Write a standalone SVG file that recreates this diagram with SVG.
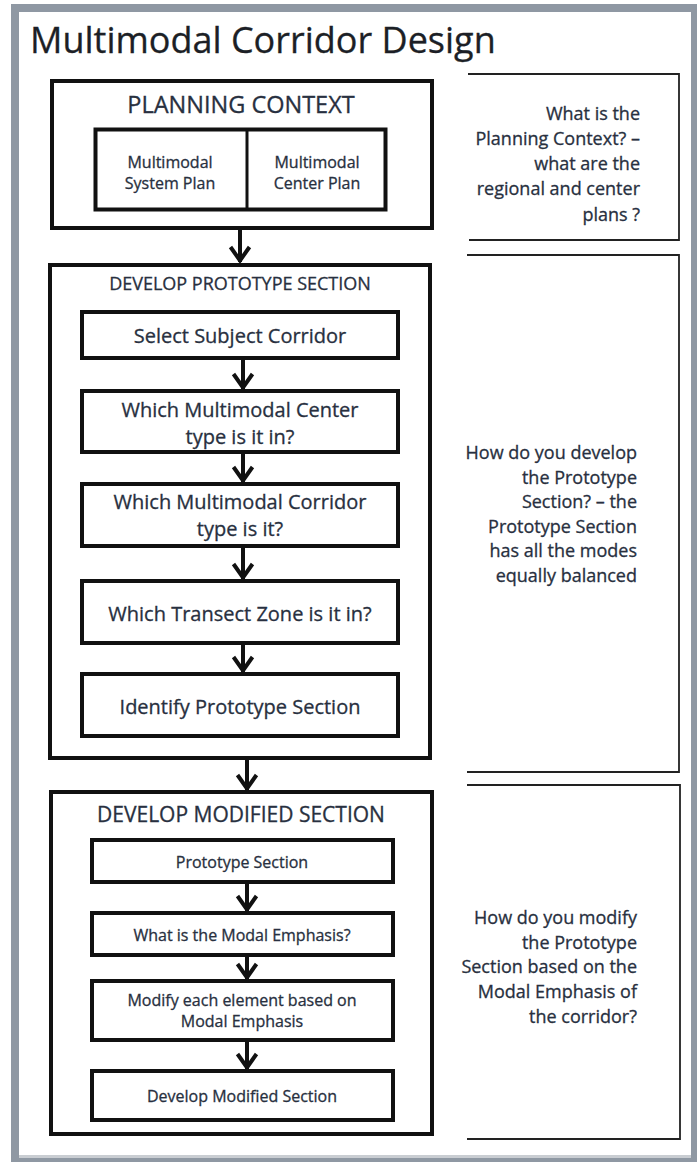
<svg xmlns="http://www.w3.org/2000/svg" width="697" height="1162" viewBox="0 0 697 1162">
<style>
.frame{fill:#8f98a3}
.box{fill:#fff;stroke:#111;stroke-width:4}
.thin{fill:none;stroke:#222;stroke-width:1.8}
.t{font-family:"Open Sans","Noto Sans",sans-serif;fill:#283040;stroke:#283040;stroke-width:0.3;text-anchor:middle}
.r{font-family:"Open Sans","Noto Sans",sans-serif;fill:#283040;stroke:#283040;stroke-width:0.3;text-anchor:end;font-size:18px}
.conn{stroke:#111;stroke-width:4;fill:none}
</style>
<defs>
<marker id="chev" viewBox="-18 -12 22 24" refX="0" refY="0" markerWidth="22" markerHeight="24" markerUnits="userSpaceOnUse" orient="auto">
<polyline points="-15,-9.5 -1.5,0 -15,9.5" fill="none" stroke="#111" stroke-width="4"/>
</marker>
</defs>
<rect x="0" y="0" width="697" height="1162" fill="#fff"/>
<rect class="frame" x="11" y="4" width="686" height="1158"/>
<rect x="19" y="12" width="672" height="1143" fill="#fff"/>
<rect x="19" y="1155" width="672" height="3" fill="#c9cdd2"/>
<text x="30" y="53" font-family="'Open Sans','Noto Sans',sans-serif" font-size="36" fill="#1c1f26" stroke="#1c1f26" stroke-width="0.3">Multimodal Corridor Design</text>

<g id="planning-context">
<rect class="box" x="52" y="81" width="380" height="147"/>
<text class="t" x="241" y="113" font-size="23.5">PLANNING CONTEXT</text>
<rect class="box" x="95.5" y="129.5" width="290" height="80" stroke-width="3"/>
<line x1="247" y1="129.5" x2="247" y2="209.5" stroke="#111" stroke-width="3"/>
</g>
<g id="system-plan">
<text class="t" x="170" y="168" font-size="16">Multimodal</text>
<text class="t" x="170" y="189" font-size="16">System Plan</text>
</g>
<g id="center-plan">
<text class="t" x="317" y="168" font-size="16">Multimodal</text>
<text class="t" x="317" y="189" font-size="16">Center Plan</text>
</g>

<g id="develop-prototype-section">
<rect class="box" x="50" y="265" width="380" height="493"/>
<text class="t" x="240" y="290" font-size="18">DEVELOP PROTOTYPE SECTION</text>
</g>
<g id="select-subject-corridor">
<rect class="box" x="82" y="312" width="316" height="46"/>
<text class="t" x="240" y="343" font-size="20">Select Subject Corridor</text>
</g>
<g id="center-type">
<rect class="box" x="82" y="391" width="316" height="61"/>
<text class="t" x="240" y="417" font-size="20">Which Multimodal Center</text>
<text class="t" x="240" y="444" font-size="20">type is it in?</text>
</g>
<g id="corridor-type">
<rect class="box" x="82" y="484" width="316" height="62"/>
<text class="t" x="240" y="509" font-size="20">Which Multimodal Corridor</text>
<text class="t" x="240" y="536" font-size="20">type is it?</text>
</g>
<g id="transect-zone">
<rect class="box" x="82" y="581" width="316" height="62"/>
<text class="t" x="240" y="621" font-size="20">Which Transect Zone is it in?</text>
</g>
<g id="identify-prototype">
<rect class="box" x="82" y="674" width="316" height="62"/>
<text class="t" x="240" y="714" font-size="20">Identify Prototype Section</text>
</g>

<g id="develop-modified-section">
<rect class="box" x="51" y="792" width="381" height="342"/>
<text class="t" x="241" y="822" font-size="21">DEVELOP MODIFIED SECTION</text>
</g>
<g id="prototype-section">
<rect class="box" x="92" y="840" width="301" height="42"/>
<text class="t" x="242" y="868" font-size="16">Prototype Section</text>
</g>
<g id="modal-emphasis">
<rect class="box" x="92" y="913" width="301" height="42"/>
<text class="t" x="242" y="941" font-size="16">What is the Modal Emphasis?</text>
</g>
<g id="modify-element">
<rect class="box" x="92" y="981" width="301" height="59"/>
<text class="t" x="242" y="1006" font-size="16">Modify each element based on</text>
<text class="t" x="242" y="1027" font-size="16">Modal Emphasis</text>
</g>
<g id="develop-modified">
<rect class="box" x="92" y="1071" width="301" height="49"/>
<text class="t" x="242" y="1102" font-size="16">Develop Modified Section</text>
</g>

<g id="note-planning">
<path class="thin" d="M468,74 H679 V240 H469"/>
<text class="r" x="640" y="120">What is the</text>
<text class="r" x="640" y="145">Planning Context? –</text>
<text class="r" x="640" y="170">what are the</text>
<text class="r" x="640" y="195">regional and center</text>
<text class="r" x="640" y="221">plans ?</text>
</g>
<g id="note-prototype">
<path class="thin" d="M467,255 H679 V772 H467"/>
<text class="r" x="637" y="459">How do you develop</text>
<text class="r" x="637" y="483.5">the Prototype</text>
<text class="r" x="637" y="508">Section? – the</text>
<text class="r" x="637" y="532.5">Prototype Section</text>
<text class="r" x="637" y="557">has all the modes</text>
<text class="r" x="637" y="581.5">equally balanced</text>
</g>
<g id="note-modified">
<path class="thin" d="M467,785 H680 V1139 H467"/>
<text class="r" x="637" y="924">How do you modify</text>
<text class="r" x="637" y="949">the Prototype</text>
<text class="r" x="637" y="973">Section based on the</text>
<text class="r" x="637" y="998">Modal Emphasis of</text>
<text class="r" x="637" y="1023">the corridor?</text>
</g>

<g id="connectors">
<path class="conn" d="M240,230 V262" marker-end="url(#chev)"/>
<path class="conn" d="M243,360 V389" marker-end="url(#chev)"/>
<path class="conn" d="M243,454 V482" marker-end="url(#chev)"/>
<path class="conn" d="M243,548 V579" marker-end="url(#chev)"/>
<path class="conn" d="M243,645 V672" marker-end="url(#chev)"/>
<path class="conn" d="M247,760 V790" marker-end="url(#chev)"/>
<path class="conn" d="M247,884 V911" marker-end="url(#chev)"/>
<path class="conn" d="M247,957 V979" marker-end="url(#chev)"/>
<path class="conn" d="M247,1042 V1069" marker-end="url(#chev)"/>
</g>
</svg>
